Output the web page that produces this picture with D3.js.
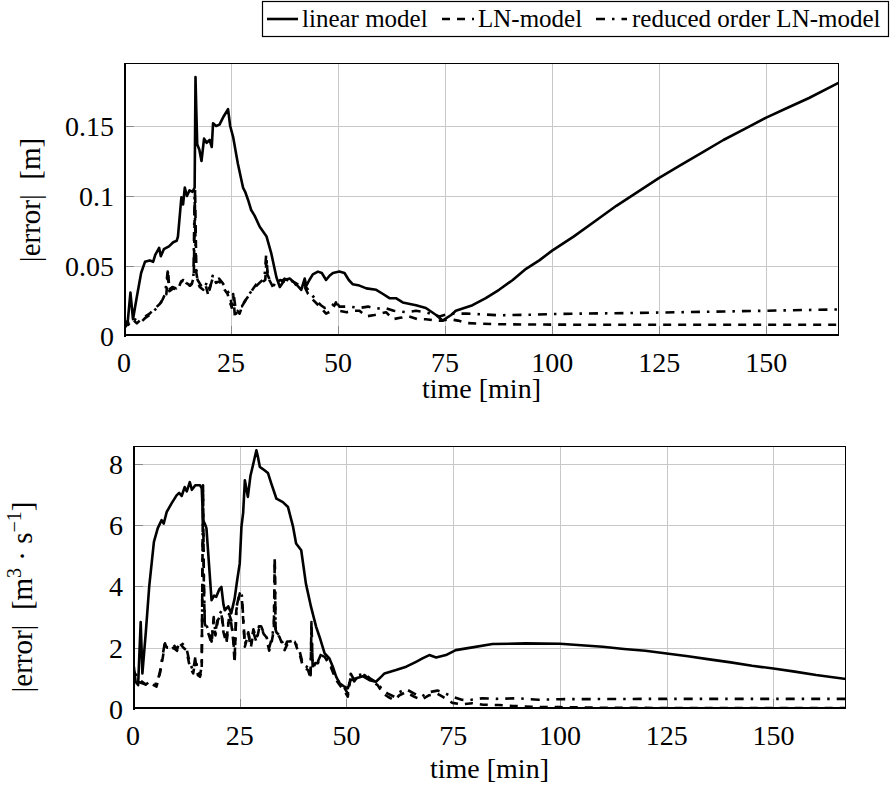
<!DOCTYPE html>
<html><head><meta charset="utf-8">
<script src="https://cdn.jsdelivr.net/npm/d3@7"></script>
<style>body{margin:0;background:#fff}svg{display:block}text{font-family:"Liberation Serif","Times New Roman",serif;fill:#000}</style>
</head><body><svg id="c" width="891" height="792"></svg>
<script>
// ---------- data ----------
const xTicks = [0, 25, 50, 75, 100, 125, 150];
const topYTicks = [0, 0.05, 0.1, 0.15];
const topYTickLabels = ["0", "0.05", "0.1", "0.15"];
const botYTicks = [0, 2, 4, 6, 8];
const legendLabels = ["linear model", "LN-model", "reduced order LN-model"];

const topLinear = [[0,0.012],[0.8,0.008],[1.5,0.031],[2.1,0.012],[3,0.028],[4,0.045],[4.9,0.053],[6,0.054],[6.8,0.053],[7.3,0.058],[8.2,0.063],[8.6,0.057],[9.3,0.062],[10.5,0.064],[11.5,0.067],[12.3,0.068],[12.6,0.071],[13.4,0.099],[13.8,0.094],[14.2,0.106],[14.7,0.100],[15.3,0.104],[16.0,0.103],[16.5,0.106],[16.7,0.185],[16.9,0.160],[17.1,0.137],[17.6,0.133],[18.1,0.125],[18.7,0.141],[19.3,0.138],[20.0,0.140],[20.5,0.135],[20.8,0.152],[21.5,0.150],[22.3,0.151],[23.3,0.157],[24.3,0.162],[24.8,0.150],[25.5,0.142],[26.6,0.123],[27.8,0.106],[28.3,0.103],[29.0,0.097],[29.7,0.090],[30.5,0.086],[31.7,0.078],[33.3,0.071],[34.4,0.059],[35.6,0.042],[36.4,0.035],[37.5,0.040],[38.7,0.041],[40.2,0.037],[41.4,0.033],[42.2,0.041],[42.6,0.036],[43.3,0.040],[44.1,0.044],[45.3,0.046],[46.2,0.045],[47.2,0.040],[48.0,0.043],[48.8,0.045],[50.3,0.046],[51.5,0.045],[52.5,0.040],[53.4,0.037],[55,0.036],[56.6,0.034],[58.9,0.033],[60.5,0.030],[62,0.027],[63.5,0.027],[65.1,0.024],[68.2,0.022],[70.5,0.020],[72.9,0.015],[74.4,0.011],[76.4,0.015],[77.5,0.018],[81.4,0.022],[84.5,0.027],[87.6,0.033],[90.8,0.040],[93.9,0.048],[97,0.054],[100,0.061],[105,0.071],[110,0.082],[115,0.093],[120,0.103],[125,0.113],[130,0.122],[135,0.131],[140,0.140],[145,0.148],[150,0.156],[155,0.163],[160,0.170],[167,0.181]];

const topLN = [[0,0.011],[1,0.008],[2,0.012],[3,0.009],[4,0.012],[5,0.014],[6,0.016],[7,0.019],[8.4,0.023],[9.3,0.027],[9.9,0.030],[10.3,0.047],[10.6,0.032],[11.5,0.034],[12.6,0.033],[13.2,0.038],[13.8,0.040],[14.6,0.039],[15.3,0.036],[15.8,0.037],[16.3,0.042],[16.6,0.105],[16.9,0.045],[17.3,0.038],[17.7,0.035],[18.5,0.033],[19.0,0.037],[19.6,0.030],[20.2,0.036],[20.8,0.042],[21.5,0.038],[22.3,0.039],[23.0,0.036],[23.5,0.033],[24.2,0.030],[24.6,0.025],[25.1,0.021],[25.5,0.030],[25.9,0.014],[26.5,0.018],[27.0,0.016],[27.8,0.023],[28.5,0.026],[29.4,0.030],[30.2,0.034],[30.9,0.037],[32.0,0.038],[33.0,0.040],[33.3,0.055],[33.6,0.042],[34.8,0.035],[35.5,0.038],[36.5,0.040],[37.5,0.039],[38.7,0.040],[40.0,0.038],[41.0,0.036],[42.2,0.035],[43.0,0.030],[44.1,0.026],[45.7,0.021],[47.2,0.016],[48.5,0.018],[49.5,0.024],[50.3,0.018],[52,0.017],[53.5,0.018],[55,0.018],[56.6,0.014],[58.5,0.015],[60,0.016],[61.2,0.017],[62.8,0.012],[64.5,0.013],[66.5,0.014],[68.5,0.012],[70.5,0.012],[72.9,0.011],[74.4,0.011],[76,0.012],[78,0.011],[79.9,0.0093],[83,0.0088],[87.6,0.0084],[95,0.0082],[110,0.008],[130,0.008],[150,0.008],[167,0.008]];

const topRed = [[0,0.005],[1,0.010],[2,0.013],[3,0.011],[4,0.010],[5,0.013],[6,0.015],[7,0.018],[8,0.021],[9,0.026],[9.6,0.030],[10.2,0.046],[10.5,0.033],[11.3,0.035],[12.2,0.034],[13.0,0.037],[13.8,0.041],[14.5,0.038],[15.5,0.036],[16.2,0.039],[16.5,0.100],[16.8,0.048],[17.2,0.040],[18.0,0.036],[18.8,0.034],[19.4,0.039],[20.0,0.033],[20.7,0.043],[21.4,0.040],[22.2,0.041],[23.0,0.038],[23.8,0.034],[24.4,0.031],[24.9,0.027],[25.3,0.018],[25.7,0.028],[26.2,0.016],[26.8,0.020],[27.5,0.021],[28.3,0.025],[29.0,0.029],[30.0,0.033],[31.0,0.036],[32.0,0.039],[32.8,0.041],[33.2,0.058],[33.5,0.044],[34.5,0.037],[35.5,0.036],[36.5,0.038],[37.5,0.041],[38.7,0.039],[40.0,0.037],[41.0,0.035],[42.0,0.037],[43.0,0.033],[44.0,0.029],[45.0,0.025],[46.0,0.022],[46.9,0.020],[48.5,0.021],[49.5,0.025],[50.3,0.021],[52.7,0.021],[55,0.020],[57,0.021],[58.9,0.0196],[61,0.020],[63,0.018],[65.9,0.017],[68.2,0.018],[70.5,0.017],[73.7,0.014],[76,0.016],[80,0.016],[87.6,0.0148],[95,0.0152],[100,0.0157],[120,0.0165],[140,0.0175],[167,0.019]];

const botLinear = [[0,0.1],[0.2,1.38],[0.6,0.9],[1.2,0.78],[1.8,2.84],[2.2,1.16],[3,2.5],[3.8,4.0],[4.9,5.45],[5.8,5.9],[6.7,6.16],[7.2,6.05],[7.9,6.43],[9.0,6.7],[10.2,6.97],[10.8,7.05],[11.4,6.95],[12.1,7.24],[12.6,7.1],[13.3,7.40],[13.8,7.15],[14.6,7.3],[15.7,7.30],[16.1,7.2],[16.4,6.16],[16.8,6.05],[17.2,5.9],[18.4,3.55],[19.0,3.7],[19.5,3.66],[20.2,3.9],[20.7,3.98],[21.2,3.4],[21.5,3.22],[22.3,3.35],[23,3.12],[23.8,3.6],[24.4,4.2],[25,4.75],[25.4,5.94],[25.8,6.4],[26.2,7.46],[26.9,6.92],[27.5,7.6],[28.1,7.95],[28.9,8.44],[29.3,8.2],[29.7,7.9],[30.8,7.79],[31.6,7.7],[32.4,7.35],[33.6,6.86],[35.1,6.75],[36.3,6.59],[37.5,5.94],[38.2,5.40],[39.4,5.18],[40.5,4.09],[41.7,3.33],[42.9,2.68],[43.7,2.35],[44.9,1.81],[46,1.65],[46.8,1.38],[47.6,1.05],[48.4,0.84],[49.3,0.75],[50.3,0.67],[51,0.95],[52.3,1.0],[53.8,1.07],[55.4,0.94],[56.9,0.89],[58.1,1.05],[58.9,1.16],[61.6,1.27],[64,1.38],[66.3,1.54],[67.8,1.65],[69.4,1.76],[71,1.68],[73.3,1.76],[75.6,1.92],[79.5,2.01],[84.2,2.12],[92,2.14],[100,2.13],[105,2.08],[110,2.03],[115,1.96],[120,1.90],[125,1.81],[130,1.72],[135,1.62],[140,1.52],[145,1.41],[150,1.32],[155,1.22],[160,1.11],[167,0.98]];

const botLN = [[0,0.1],[0.3,1.2],[1,0.9],[2,0.85],[3,0.8],[4,0.84],[5.5,0.73],[6.3,1.16],[7,1.7],[7.5,2.14],[8,1.95],[8.6,1.92],[9.5,2.0],[10.3,1.9],[11,2.14],[11.8,2.0],[12.5,1.92],[13.3,1.38],[14.1,1.16],[14.6,1.6],[15.2,1.1],[15.7,1.05],[16.1,1.3],[16.4,7.3],[16.6,4.0],[16.8,2.79],[17.3,2.6],[17.8,2.4],[18.4,2.14],[18.9,2.9],[19.3,2.4],[19.9,2.9],[20.7,3.12],[21.2,2.5],[21.9,2.14],[22.5,3.0],[23.0,2.8],[23.5,2.2],[23.8,1.49],[24.2,3.22],[25,3.77],[25.5,3.6],[26.2,2.03],[27,2.46],[27.6,2.0],[28.2,2.5],[28.9,2.19],[29.5,2.6],[30,2.68],[30.6,2.45],[31.2,2.35],[31.9,1.9],[32.5,2.2],[33.0,2.6],[33.2,4.96],[33.4,2.5],[33.6,2.46],[34.3,2.35],[35.5,1.92],[36.1,2.1],[36.7,2.14],[37.9,2.19],[38.5,1.95],[39,1.81],[39.8,1.38],[41,1.27],[41.6,1.0],[41.8,2.84],[42.1,1.27],[42.7,1.5],[43.3,1.49],[44.1,1.75],[44.9,1.70],[46.3,1.38],[47.6,0.94],[48.7,0.73],[49.5,0.6],[50.3,0.40],[51.0,1.1],[51.8,0.9],[52.6,1.05],[54.2,1.11],[55.5,0.95],[57.3,0.78],[58.5,0.51],[59.7,0.40],[61.2,0.29],[62.4,0.45],[63.9,0.55],[65.9,0.40],[67.5,0.30],[69.4,0.45],[71.3,0.50],[72.5,0.40],[74.8,0.2],[77,0.15],[79.5,0.19],[82,0.14],[85.7,0.13],[89,0.10],[93.5,0.07],[100,0.06],[110,0.04],[130,0.03],[150,0.03],[167,0.03]];

const botRed = [[0,0.1],[0.3,1.3],[1,1.0],[2,0.9],[3,0.8],[4,0.9],[5.5,0.8],[6.3,1.2],[7,1.8],[7.5,2.2],[8,2.0],[8.6,2.0],[9.5,2.1],[10.3,1.95],[11,2.2],[11.8,2.1],[12.5,2.0],[13.3,1.5],[14.1,1.25],[14.6,1.7],[15.2,1.2],[15.7,1.1],[16.1,1.4],[16.4,7.1],[16.6,4.2],[16.8,2.9],[17.3,2.7],[17.8,2.5],[18.4,2.2],[18.9,3.0],[19.3,2.5],[19.9,3.0],[20.7,3.2],[21.2,2.6],[21.9,2.2],[22.5,3.1],[23.0,2.9],[23.5,2.3],[23.8,1.6],[24.2,3.3],[25,3.8],[25.5,3.7],[26.2,2.1],[27,2.5],[27.6,2.1],[28.2,2.6],[28.9,2.3],[29.5,2.7],[30,2.7],[30.6,2.5],[31.2,2.4],[31.9,2.0],[32.5,2.3],[33.0,2.7],[33.2,4.8],[33.4,2.6],[33.6,2.5],[34.3,2.4],[35.5,2.0],[36.1,2.2],[36.7,2.2],[37.9,2.25],[38.5,2.0],[39,1.9],[39.8,1.45],[41,1.35],[41.6,1.1],[41.8,2.7],[42.1,1.35],[42.7,1.6],[43.3,1.55],[44.1,1.8],[44.9,1.75],[46.3,1.45],[47.6,1.0],[48.7,0.8],[49.5,0.7],[50.3,0.5],[51.0,1.15],[51.8,0.95],[52.6,1.1],[54.2,1.15],[55.5,1.0],[57.3,0.85],[58.5,0.6],[59.7,0.5],[61.2,0.4],[62.4,0.55],[63.9,0.65],[65.9,0.5],[67.5,0.4],[69.4,0.55],[71.3,0.6],[72.5,0.55],[74.8,0.4],[77,0.3],[78.7,0.29],[81.8,0.35],[85,0.33],[90,0.35],[95,0.3],[100,0.32],[120,0.33],[140,0.33],[167,0.33]];

// ---------- drawing ----------
const svg = d3.select("#c");
const FS = 28;
const styles = {
  solid: null,
  dashed: "8,7",
  dashdot: "9,7,2.5,7"
};

function panel(cfg) {
  const x = d3.scaleLinear().domain([0, 167]).range([cfg.left, cfg.right]);
  const y = d3.scaleLinear().domain([0, cfg.ymax]).range([cfg.bottom, cfg.top]);
  const g = svg.append("g");
  const id = "clip" + cfg.name;
  svg.append("clipPath").attr("id", id).append("rect")
    .attr("x", cfg.left).attr("y", cfg.top - 2).attr("width", cfg.right - cfg.left).attr("height", cfg.bottom - cfg.top + 2);
  // grid
  g.selectAll(".gx").data(xTicks.filter(d => d > 0)).enter().append("line")
    .attr("x1", d => Math.round(x(d)) + 0.5).attr("x2", d => Math.round(x(d)) + 0.5)
    .attr("y1", cfg.top).attr("y2", cfg.bottom).attr("stroke", "#c8c8c8").attr("stroke-width", 1);
  g.selectAll(".gy").data(cfg.yTicks.filter(d => d > 0)).enter().append("line")
    .attr("y1", d => Math.round(y(d)) + 0.5).attr("y2", d => Math.round(y(d)) + 0.5)
    .attr("x1", cfg.left).attr("x2", cfg.right).attr("stroke", "#c8c8c8").attr("stroke-width", 1);
  // tick marks
  g.selectAll(".tx").data(xTicks.filter(d => d > 0)).enter().append("line")
    .attr("x1", d => Math.round(x(d)) + 0.5).attr("x2", d => Math.round(x(d)) + 0.5)
    .attr("y1", cfg.bottom).attr("y2", cfg.bottom - 10).attr("stroke", "#888").attr("stroke-width", 1);
  g.selectAll(".ty").data(cfg.yTicks.filter(d => d > 0)).enter().append("line")
    .attr("y1", d => Math.round(y(d)) + 0.5).attr("y2", d => Math.round(y(d)) + 0.5)
    .attr("x1", cfg.left).attr("x2", cfg.left + 10).attr("stroke", "#888").attr("stroke-width", 1);
  // lines
  const line = d3.line().x(d => x(d[0])).y(d => y(d[1]));
  const lg = g.append("g").attr("clip-path", `url(#${id})`);
  cfg.series.forEach(s => {
    lg.append("path").datum(s.data).attr("d", line).attr("fill", "none")
      .attr("stroke", "#000").attr("stroke-width", 2.6).attr("stroke-linejoin", "round")
      .attr("stroke-dasharray", styles[s.style]);
  });
  // frame
  g.append("rect").attr("x", cfg.left + 0.5).attr("y", cfg.top + 0.5)
    .attr("width", cfg.right - cfg.left - 1).attr("height", cfg.bottom - cfg.top - 1)
    .attr("fill", "none").attr("stroke", "#000").attr("stroke-width", 1);
  g.append("line").attr("x1", cfg.left + 1).attr("x2", cfg.left + 1).attr("y1", cfg.top).attr("y2", cfg.bottom + 1)
    .attr("stroke", "#000").attr("stroke-width", 2);
  g.append("line").attr("x1", cfg.left).attr("x2", cfg.right).attr("y1", cfg.bottom - 1).attr("y2", cfg.bottom - 1)
    .attr("stroke", "#000").attr("stroke-width", 2);
  // tick labels
  g.selectAll(".lx").data(xTicks).enter().append("text")
    .attr("x", d => x(d)).attr("y", cfg.bottom + 36).attr("text-anchor", "middle")
    .attr("font-size", FS).text(d => d);
  g.selectAll(".ly").data(cfg.yTicks).enter().append("text")
    .attr("x", cfg.left - 10).attr("y", d => y(d) + 10).attr("text-anchor", "end")
    .attr("font-size", FS).text((d, i) => cfg.yLabels[i]);
  // x label
  g.append("text").attr("x", (cfg.left + cfg.right) / 2).attr("y", cfg.bottom + cfg.xlabDy)
    .attr("text-anchor", "middle").attr("font-size", FS).text("time [min]");
  // y label
  const yl = g.append("text").attr("transform", `translate(${cfg.ylabX},${cfg.ylabY}) rotate(-90)`)
    .attr("text-anchor", "middle").attr("font-size", 29).attr("xml:space", "preserve");
  cfg.ylabel(yl);
}

panel({
  name: "top", left: 124, right: 839, top: 63, bottom: 336, ymax: 0.195,
  yTicks: topYTicks, yLabels: topYTickLabels, xlabDy: 62,
  ylabX: 40, ylabY: 200,
  ylabel: t => { t.append("tspan").text("|error|  [m]"); },
  series: [{data: topLN, style: "dashed"}, {data: topRed, style: "dashdot"}, {data: topLinear, style: "solid"}]
});

panel({
  name: "bot", left: 133, right: 846, top: 446, bottom: 709, ymax: 8.58,
  yTicks: botYTicks, yLabels: botYTicks.map(String), xlabDy: 69,
  ylabX: 32, ylabY: 597,
  ylabel: t => {
    t.append("tspan").text("|error|  [m");
    t.append("tspan").attr("dy", -11).attr("font-size", 20).text("3");
    t.append("tspan").attr("dy", 11).text(" · s");
    t.append("tspan").attr("dy", -11).attr("font-size", 20).text("−1");
    t.append("tspan").attr("dy", 11).text("]");
  },
  series: [{data: botLN, style: "dashed"}, {data: botRed, style: "dashdot"}, {data: botLinear, style: "solid"}]
});

// legend
const LFS = 25;
const leg = svg.append("g");
leg.append("rect").attr("x", 262.5).attr("y", 1.5).attr("width", 626).attr("height", 35)
  .attr("fill", "#fff").attr("stroke", "#000").attr("stroke-width", 1.2);
const legItems = [
  {x1: 267, x2: 298, tx: 302, style: "solid"},
  {x1: 442, x2: 474, tx: 478, style: "dashed"},
  {x1: 596, x2: 627, tx: 632, style: "dashdot"}
];
legItems.forEach((it, i) => {
  leg.append("line").attr("x1", it.x1).attr("x2", it.x2).attr("y1", 19).attr("y2", 19)
    .attr("stroke", "#000").attr("stroke-width", 2.6).attr("stroke-dasharray", styles[it.style]);
  leg.append("text").attr("x", it.tx).attr("y", 27).attr("font-size", LFS).text(legendLabels[i]);
});
</script></body></html>
